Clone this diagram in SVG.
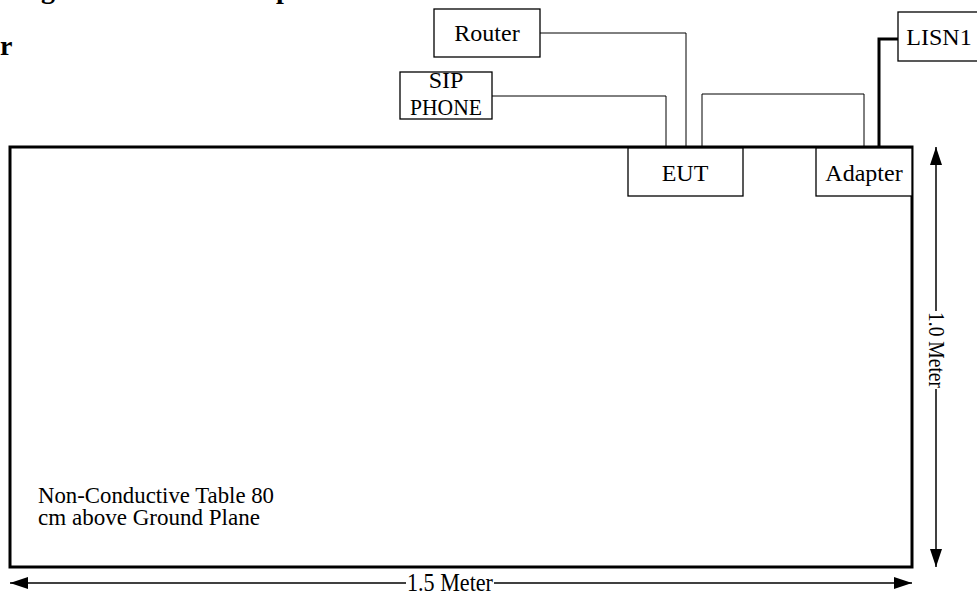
<svg xmlns="http://www.w3.org/2000/svg" width="977" height="596" viewBox="0 0 977 596">
<style>
  .box { fill: #fff; stroke: #000; stroke-width: 1.3; }
  .lbl { font-family: "Liberation Serif", "Times New Roman", serif; font-size: 24px; fill: #000; text-anchor: middle; }
  .note { font-family: "Liberation Serif", "Times New Roman", serif; font-size: 23px; fill: #000; }
  .head { font-family: "Liberation Serif", "Times New Roman", serif; font-size: 28px; font-weight: bold; fill: #000; }
  .wire { fill: none; stroke: #000; stroke-width: 1; }
  .thick { fill: none; stroke: #000; stroke-width: 3; }
  .dim { fill: none; stroke: #000; stroke-width: 1.5; }
</style>
<defs>
  <marker id="ah" viewBox="0 0 18 12" refX="18" refY="6" markerWidth="18" markerHeight="12" markerUnits="userSpaceOnUse" orient="auto-start-reverse">
    <path d="M0,0 L18,6 L0,12 Z" fill="#000"/>
  </marker>
</defs>
<rect width="977" height="596" fill="#fff"/>
<g id="heading">
  <text class="head" x="41" y="-2">g</text>
  <text class="head" x="276" y="-2">p</text>
  <text class="head" x="0" y="55">r</text>
</g>
<g id="table">
  <rect x="10" y="147" width="902" height="420" fill="none" stroke="#000" stroke-width="3"/>
  <text class="note" x="38" y="503" textLength="236" lengthAdjust="spacingAndGlyphs">Non-Conductive Table 80</text>
  <text class="note" x="38" y="525" textLength="222" lengthAdjust="spacingAndGlyphs">cm above Ground Plane</text>
</g>
<g id="connectors">
  <path class="wire" d="M540,33 H686 V147"/>
  <path class="wire" d="M492,96 H666 V147"/>
  <path class="wire" d="M702,147 V94 H864 V147"/>
  <path class="thick" d="M898,39 H879 V147"/>
</g>
<g id="router">
  <rect class="box" x="434" y="9" width="106" height="48"/>
  <text class="lbl" x="487" y="41">Router</text>
</g>
<g id="sip-phone">
  <rect class="box" x="400" y="72" width="92" height="47"/>
  <text class="lbl" x="446" y="88">SIP</text>
  <text class="lbl" x="446" y="115" textLength="72" lengthAdjust="spacingAndGlyphs">PHONE</text>
</g>
<g id="eut">
  <rect class="box" x="628" y="148" width="115" height="48"/>
  <text class="lbl" x="685" y="181">EUT</text>
</g>
<g id="adapter">
  <rect class="box" x="816" y="148" width="96" height="48"/>
  <text class="lbl" x="864" y="181">Adapter</text>
</g>
<g id="lisn1">
  <rect class="box" x="898" y="12" width="90" height="49"/>
  <text class="lbl" x="939" y="45">LISN1</text>
</g>
<g id="dimensions">
  <path class="dim" d="M406,583 H10" marker-end="url(#ah)"/>
  <path class="dim" d="M494,583 H912" marker-end="url(#ah)"/>
  <text class="lbl" x="450" y="591" textLength="86" lengthAdjust="spacingAndGlyphs" style="font-size:25px">1.5 Meter</text>
  <path class="dim" d="M936,311 V147" marker-end="url(#ah)"/>
  <path class="dim" d="M936,389 V567" marker-end="url(#ah)"/>
  <text class="lbl" transform="translate(929,350) rotate(90)" x="0" y="0" textLength="76" lengthAdjust="spacingAndGlyphs" style="font-size:23px">1.0 Meter</text>
</g>
</svg>
